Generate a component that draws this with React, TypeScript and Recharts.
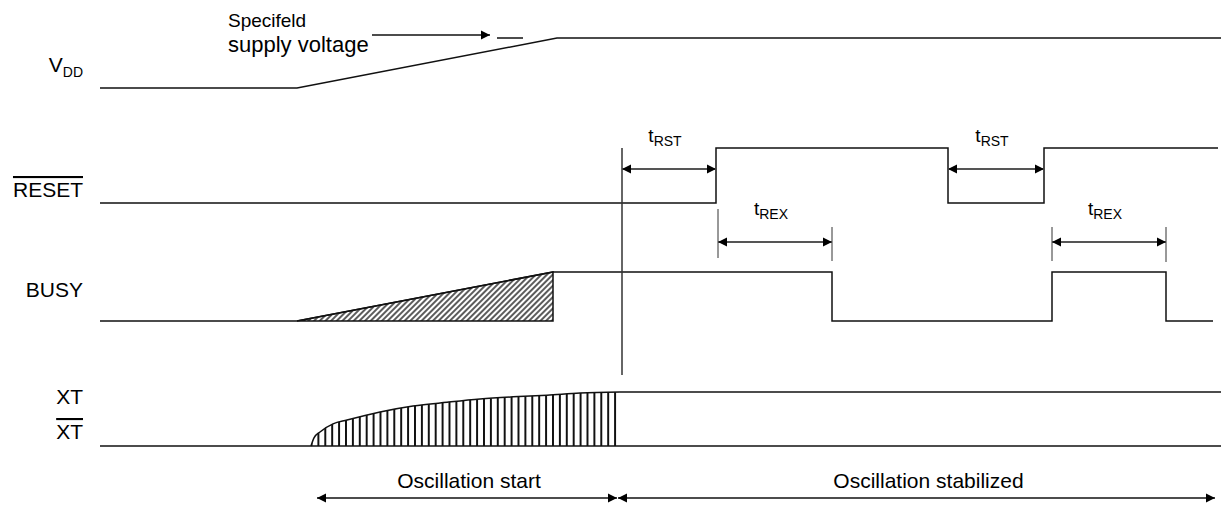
import React from 'react'
import {
  ComposedChart,
  Line,
  Area,
  XAxis,
  YAxis,
  ReferenceLine,
  ReferenceDot,
} from 'recharts'

const W = 1221
const H = 509
const FONT = '"Liberation Sans", Arial, Helvetica, sans-serif'
const INK = '#111'

// signal edges: time (horizontal axis units) and logic level (0 = low, 1 = high)
const vddTime = [100, 297, 557, 1221]
const vddLevel = [0, 0, 1, 1]

const resetTime = [100, 716, 716, 948, 948, 1044, 1044, 1218]
const resetLevel = [0, 0, 1, 1, 0, 0, 1, 1]

const busyTime = [100, 297, 553, 832, 832, 1052, 1052, 1166, 1166, 1213]
const busyLevel = [0, 0, 1, 1, 0, 0, 1, 1, 0, 0]
const busyRampTime = [297, 553, 553, 297]
const busyRampLevel = [0, 1, 0, 0]

const xtLowTime = [100, 1221]
const xtLowLevel = [0, 0]
const xtHighTime = [620, 1221]
const xtHighLevel = [1, 1]
const xtRiseTime = [311, 314, 320, 333, 347, 380, 413, 447, 480, 513, 547, 580, 620]
const xtRiseLevel = [0, 0.15, 0.26, 0.41, 0.48, 0.63, 0.74, 0.81, 0.87, 0.91, 0.94, 0.98, 1]

// timing annotations
const trstSpans = [[622, 716], [948, 1044]]
const trexSpans = [[718, 832], [1052, 1166]]
const trexExt = [[718, 209, 258], [832, 227, 261], [1052, 227, 261], [1166, 227, 262]]
const phaseSpans = [[317, 617], [618, 1215]]
const phaseNames = ['Oscillation start', 'Oscillation stabilized']
const phaseShift = [2, 12]
const supplyArrow = [372, 490]
const supplyDash = [497, 523]
const oscStartMark = 622

const signalLabels = [
  { name: 'V', sub: 'DD' },
  { name: 'RESET', bar: true },
  { name: 'BUSY' },
  { name: 'XT' },
  { name: 'XT', bar: true },
]

// layout (vertical rows)
const lanes = {
  vdd: { low: 88, high: 38 },
  reset: { low: 203, high: 148 },
  busy: { low: 321, high: 272 },
  xt: { low: 446, high: 392 },
}
const labelRows = [64, 189, 289, 396, 431]
const trstRow = 169
const trexRow = 242
const phaseRow = 498
const supplyRow = 35
const dashRow = 38
const markTop = 148
const markBottom = 375

type Lane = { low: number; high: number }
const rowOf = (lane: Lane, lvl: number) => lane.low - lvl * (lane.low - lane.high)
const toRows = (time: number[], level: number[], lane: Lane) =>
  time.map((t, i) => ({ t, y: rowOf(lane, level[i]) }))
const toBand = (time: number[], level: number[], lane: Lane) =>
  time.map((t, i) => ({ t, y: [lane.low, rowOf(lane, level[i])] }))

const SignalTick = (props: any) => {
  const { x, y, payload } = props
  const s = signalLabels[labelRows.indexOf(payload.value)]
  if (!s) return null
  return (
    <text
      x={x}
      y={y + 8}
      textAnchor="end"
      fontFamily={FONT}
      fontSize={21}
      fill="#000"
      style={s.bar ? { textDecoration: 'overline' } : undefined}
    >
      {s.name}
      {s.sub && (
        <tspan fontSize={14} dy={5}>
          {s.sub}
        </tspan>
      )}
    </text>
  )
}

const CenterText = (props: any) => {
  const { viewBox, text, sub, size = 19, subSize = 14, shiftX = 0, shiftY = 0 } = props
  if (!viewBox) return null
  const cx = viewBox.x + viewBox.width / 2 + shiftX
  return (
    <text x={cx} y={viewBox.y + shiftY} textAnchor="middle" fontFamily={FONT} fill="#000">
      <tspan fontSize={size}>{text}</tspan>
      {sub && (
        <tspan fontSize={subSize} dy={4}>
          {sub}
        </tspan>
      )}
    </text>
  )
}

const SupplyNote = (props: any) => {
  const { viewBox } = props
  if (!viewBox) return null
  return (
    <text x={viewBox.x} y={viewBox.y} fontFamily={FONT} fill="#000">
      <tspan x={viewBox.x} fontSize={19}>Specifeld</tspan>
      <tspan x={viewBox.x} dy={25} fontSize={22}>supply voltage</tspan>
    </text>
  )
}

const arrowShape = (both: boolean, color: string, width: number) => (p: any) => (
  <line
    x1={p.x1}
    y1={p.y1}
    x2={p.x2}
    y2={p.y2}
    stroke={color}
    strokeWidth={width}
    markerStart={both ? 'url(#arrowHead)' : undefined}
    markerEnd="url(#arrowHead)"
  />
)

const lineProps = {
  type: 'linear' as const,
  dataKey: 'y',
  stroke: INK,
  strokeWidth: 1.5,
  dot: false,
  activeDot: false,
  isAnimationActive: false,
}

export default function App() {
  return (
    <div style={{ position: 'absolute', left: 0, top: 0, width: W, height: H, background: '#fff' }}>
      <ComposedChart width={W} height={H} margin={{ top: 0, right: 0, bottom: 0, left: 0 }}>
        <defs>
          <pattern id="diagHatch" patternUnits="userSpaceOnUse" width="4" height="4" patternTransform="rotate(45)">
            <line x1="1" y1="0" x2="1" y2="4" stroke="#333" strokeWidth="1.6" />
          </pattern>
          <pattern id="vertHatch" patternUnits="userSpaceOnUse" width="6.9" height="10">
            <line x1="1" y1="0" x2="1" y2="10" stroke={INK} strokeWidth="2" />
          </pattern>
          <marker
            id="arrowHead"
            viewBox="0 0 10 10"
            refX="10"
            refY="5"
            markerWidth="9"
            markerHeight="11"
            markerUnits="userSpaceOnUse"
            orient="auto-start-reverse"
          >
            <path d="M0,0 L10,5 L0,10 z" fill="#000" />
          </marker>
        </defs>

        <XAxis type="number" dataKey="t" domain={[100, W]} hide allowDataOverflow />
        <YAxis
          type="number"
          domain={[0, H]}
          reversed
          width={100}
          ticks={labelRows}
          interval={0}
          tick={<SignalTick />}
          tickSize={0}
          tickMargin={17}
          axisLine={false}
          tickLine={false}
          allowDataOverflow
        />

        {/* hatched regions */}
        <Area
          data={toBand(busyRampTime.slice(0, 2), busyRampLevel.slice(0, 2), lanes.busy)}
          dataKey="y"
          type="linear"
          stroke="none"
          fill="url(#diagHatch)"
          fillOpacity={1}
          isAnimationActive={false}
          activeDot={false}
        />
        <Area
          data={toBand(xtRiseTime, xtRiseLevel, lanes.xt)}
          dataKey="y"
          type="monotone"
          stroke="none"
          fill="url(#vertHatch)"
          fillOpacity={1}
          isAnimationActive={false}
          activeDot={false}
        />

        {/* signals */}
        <Line {...lineProps} data={toRows(vddTime, vddLevel, lanes.vdd)} />
        <Line {...lineProps} data={toRows(resetTime, resetLevel, lanes.reset)} />
        <Line {...lineProps} data={toRows(busyTime, busyLevel, lanes.busy)} />
        <Line {...lineProps} data={toRows(busyRampTime, busyRampLevel, lanes.busy)} />
        <Line {...lineProps} data={toRows(xtLowTime, xtLowLevel, lanes.xt)} />
        <Line {...lineProps} data={toRows(xtHighTime, xtHighLevel, lanes.xt)} />
        <Line {...lineProps} type="monotone" data={toRows(xtRiseTime, xtRiseLevel, lanes.xt)} />

        {/* oscillation-start marker */}
        <ReferenceLine
          segment={[{ x: oscStartMark, y: markTop }, { x: oscStartMark, y: markBottom }]}
          stroke="#333"
          strokeWidth={1.5}
        />

        {/* supply voltage note */}
        <ReferenceDot x={228} y={27} r={0} fill="none" stroke="none" label={<SupplyNote />} />
        <ReferenceLine
          segment={[{ x: supplyArrow[0], y: supplyRow }, { x: supplyArrow[1], y: supplyRow }]}
          shape={arrowShape(false, INK, 1.5)}
        />
        <ReferenceLine
          segment={[{ x: supplyDash[0], y: dashRow }, { x: supplyDash[1], y: dashRow }]}
          stroke={INK}
          strokeWidth={1.5}
        />

        {/* tRST */}
        {trstSpans.map(([a, b], i) => (
          <ReferenceLine
            key={`rst${i}`}
            segment={[{ x: a, y: trstRow }, { x: b, y: trstRow }]}
            shape={arrowShape(true, '#555', 2)}
            label={<CenterText text="t" sub="RST" shiftX={-4} shiftY={-27} />}
          />
        ))}

        {/* tREX */}
        {trexExt.map(([x, y1, y2], i) => (
          <ReferenceLine
            key={`ext${i}`}
            segment={[{ x, y: y1 }, { x, y: y2 }]}
            stroke="#333"
            strokeWidth={1}
          />
        ))}
        {trexSpans.map(([a, b], i) => (
          <ReferenceLine
            key={`rex${i}`}
            segment={[{ x: a, y: trexRow }, { x: b, y: trexRow }]}
            shape={arrowShape(true, '#555', 2)}
            label={<CenterText text="t" sub="REX" shiftX={-4} shiftY={-27} />}
          />
        ))}

        {/* oscillation phases */}
        {phaseSpans.map(([a, b], i) => (
          <ReferenceLine
            key={`ph${i}`}
            segment={[{ x: a, y: phaseRow }, { x: b, y: phaseRow }]}
            shape={arrowShape(true, INK, 1.5)}
            label={<CenterText text={phaseNames[i]} size={21} shiftX={phaseShift[i]} shiftY={-10} />}
          />
        ))}
      </ComposedChart>
    </div>
  )
}
